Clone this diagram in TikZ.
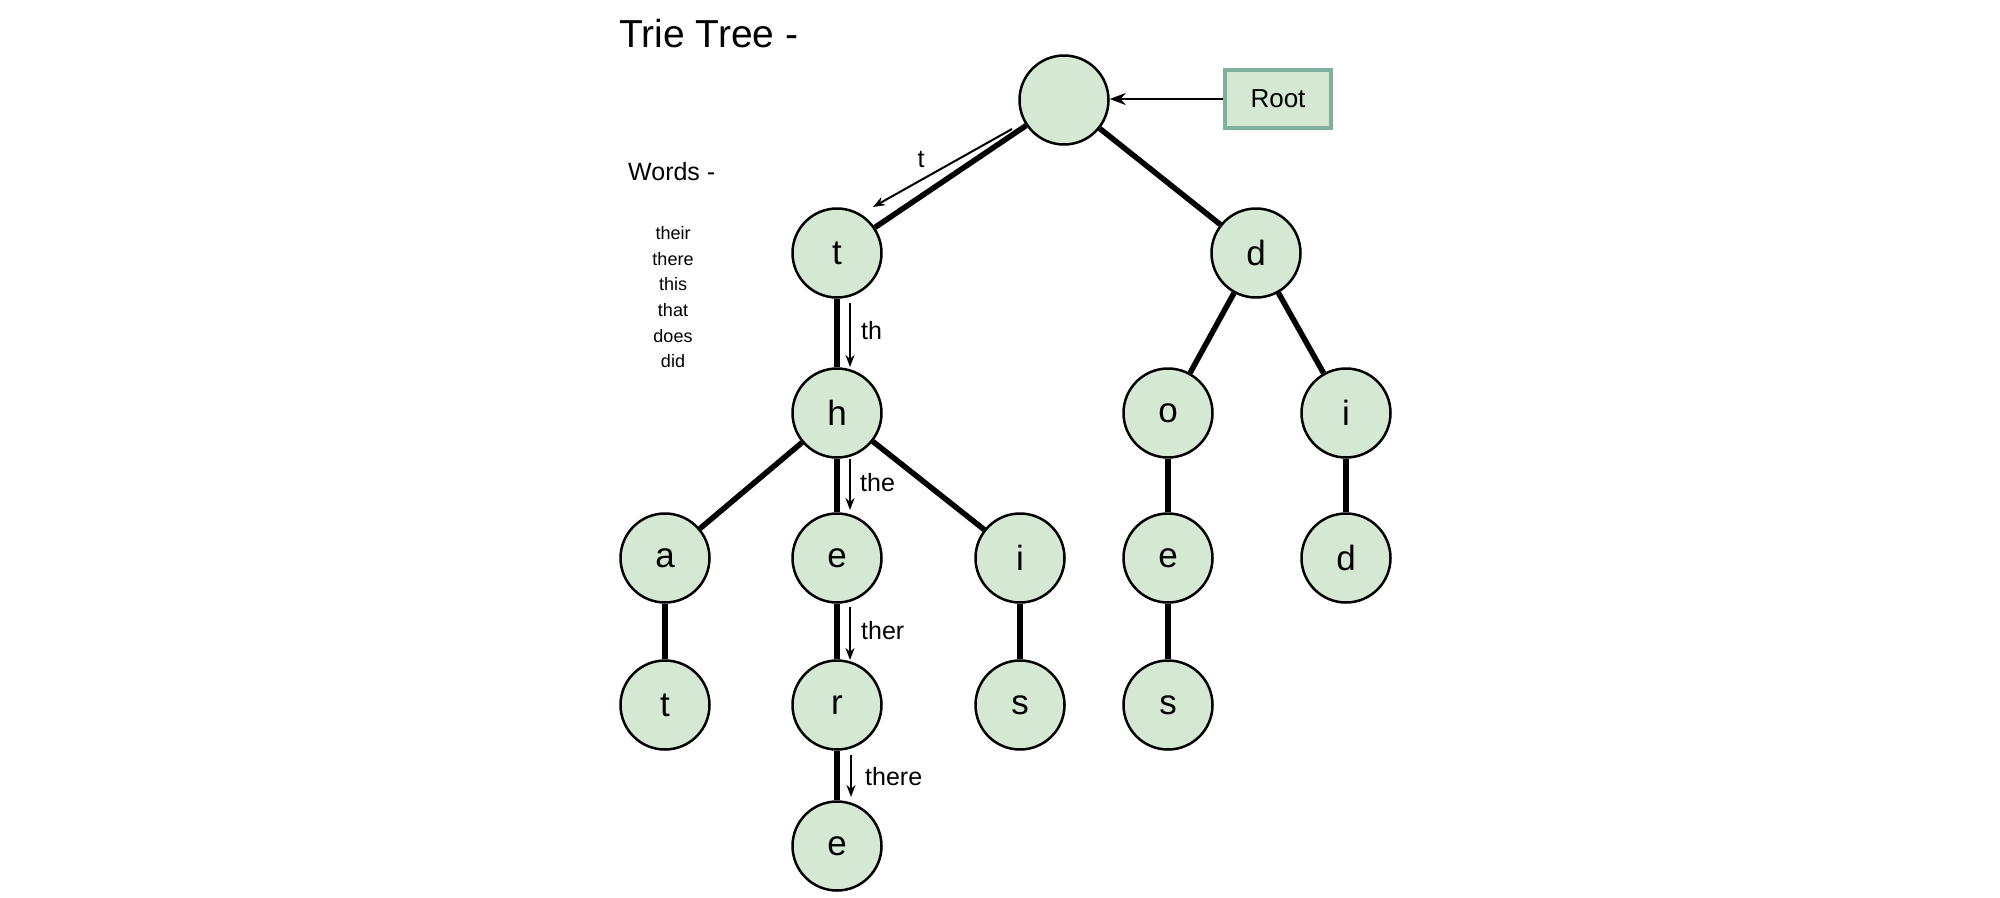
\documentclass[tikz,border=0pt]{standalone}
\usepackage{fontspec}
\setmainfont{Liberation Sans}
\usetikzlibrary{arrows.meta}
\definecolor{nodefill}{HTML}{D5E8D4}
\definecolor{boxline}{HTML}{7FB09A}
\begin{document}
\begin{tikzpicture}[x=1pt,y=-1pt,
  tnode/.style={circle,draw=black,line width=2.5pt,fill=nodefill,minimum size=89pt,inner sep=0pt,font=\fontsize{35}{40}\selectfont},
  edge/.style={line width=5.5pt},
  patharrow/.style={line width=2pt,-{Stealth[length=12pt,width=9pt]}},
  plabel/.style={font=\fontsize{25}{30}\selectfont,inner sep=0pt},
  wordtxt/.style={font=\fontsize{18}{22}\selectfont,inner sep=0pt}]
\useasboundingbox (0,0) rectangle (2000,897);
% title and word list
\node[anchor=west,inner sep=0pt,font=\fontsize{39}{46}\selectfont] (title) at (619,34) {Trie Tree -};
\node[anchor=west,inner sep=0pt,font=\fontsize{25}{30}\selectfont] (words) at (628,172) {Words -};
\node[wordtxt] (w1) at (673,233) {their};
\node[wordtxt] (w2) at (673,259) {there};
\node[wordtxt] (w3) at (673,284) {this};
\node[wordtxt] (w4) at (673,310) {that};
\node[wordtxt] (w5) at (673,336) {does};
\node[wordtxt] (w6) at (673,361) {did};
% nodes
\node[tnode] (root) at (1064,100) {};
\node[tnode] (t) at (837,253) {t};
\node[tnode] (d) at (1256,253) {d};
\node[tnode] (h) at (837,413) {h};
\node[tnode] (o) at (1168,413) {o};
\node[tnode] (di) at (1346,413) {i};
\node[tnode] (a) at (665,558) {a};
\node[tnode] (e) at (837,558) {e};
\node[tnode] (hi) at (1020,558) {i};
\node[tnode] (oe) at (1168,558) {e};
\node[tnode] (dd) at (1346,558) {d};
\node[tnode] (at) at (665,705) {t};
\node[tnode] (r) at (837,705) {r};
\node[tnode] (s) at (1020,705) {s};
\node[tnode] (os) at (1168,705) {s};
\node[tnode] (re) at (837,846) {e};
% root box
\node[draw=boxline,line width=4pt,fill=nodefill,minimum width=106pt,minimum height=58pt,inner sep=0pt,font=\fontsize{26}{30}\selectfont] (rootbox) at (1278,99) {Root};
\draw[line width=2.5pt,-{Stealth[length=16pt,width=12pt]}] (rootbox.west) -- (root.east |- rootbox.west);
% edges
\draw[edge] (root) -- (t);
\draw[edge] (root) -- (d);
\draw[edge] (t) -- (h);
\draw[edge] (h) -- (a);
\draw[edge] (h) -- (e);
\draw[edge] (h) -- (hi);
\draw[edge] (d) -- (o);
\draw[edge] (d) -- (di);
\draw[edge] (o) -- (oe);
\draw[edge] (oe) -- (os);
\draw[edge] (di) -- (dd);
\draw[edge] (a) -- (at);
\draw[edge] (e) -- (r);
\draw[edge] (hi) -- (s);
\draw[edge] (r) -- (re);
% path arrows
\coordinate (ta1) at (1012,129);
\coordinate (ta2) at (873,207);
\draw[patharrow] (ta1) -- (ta2);
\node[plabel] (lt) at (921,160) {t};
\coordinate (tha1) at (850,303);
\coordinate (tha2) at (850,367);
\draw[patharrow] (tha1) -- (tha2);
\node[plabel,anchor=west] (lth) at (861,331) {th};
\coordinate (thea1) at (850,459);
\coordinate (thea2) at (850,510);
\draw[patharrow] (thea1) -- (thea2);
\node[plabel,anchor=west] (lthe) at (860,483) {the};
\coordinate (thera1) at (850,607);
\coordinate (thera2) at (850,660);
\draw[patharrow] (thera1) -- (thera2);
\node[plabel,anchor=west] (lther) at (861,631) {ther};
\coordinate (therea1) at (851,755);
\coordinate (therea2) at (851,797);
\draw[patharrow] (therea1) -- (therea2);
\node[plabel,anchor=west] (lthere) at (865,777) {there};
\end{tikzpicture}
\end{document}
